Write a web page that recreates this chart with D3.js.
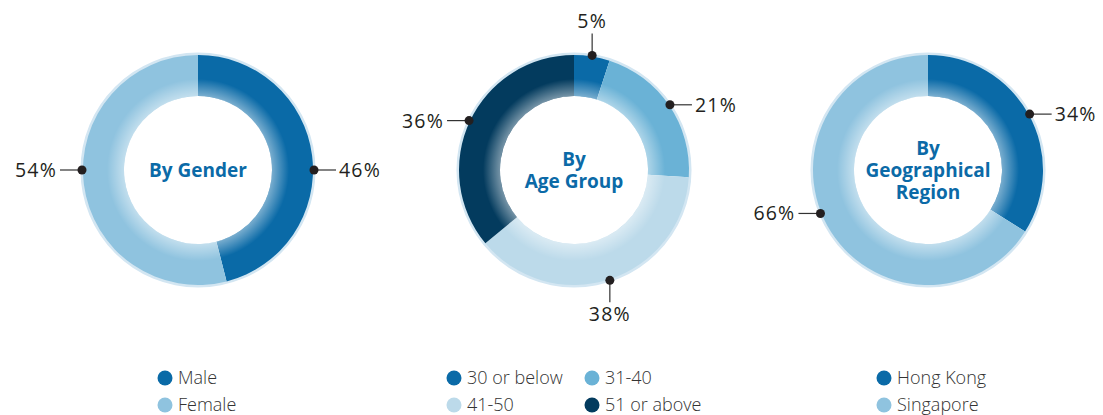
<!DOCTYPE html>
<html>
<head>
<meta charset="utf-8">
<script src="https://cdn.jsdelivr.net/npm/d3@7"></script>
<style>
  body { margin: 0; background: #fff; }
  svg { display: block; font-family: "Open Sans", "Noto Sans", sans-serif; }
</style>
</head>
<body>
<div id="main"></div>
<script>
const ctx = {
    w: 1103,
    h: 415,
    cy: 170,
    rInner: 74,
    rOuter: 115,
    rRim: 117.5,
    leader: 22,
    TITLE_COLOR: "#0b6aa7",
    TEXT_COLOR: "#231f20",
    RIM_COLOR: "#d3e6f2",
};

// data
const GENDER_LABELS = ["Male", "Female"];
const GENDER_VALUES = [46, 54];
const AGE_LABELS = ["30 or below", "31-40", "41-50", "51 or above"];
const AGE_VALUES = [5, 21, 38, 36];
const REGION_LABELS = ["Hong Kong", "Singapore"];
const REGION_VALUES = [34, 66];

const GENDER_COLORS = ["#0a6aa7", "#8fc3df"];
const AGE_COLORS = ["#0a6aa7", "#6ab2d6", "#bcdaea", "#033b5e"];
const REGION_COLORS = ["#0a6aa7", "#8fc3df"];

// each chart: centre x, title lines, where the callout dots sit (degrees, null = mid of slice)
const CHARTS = [
    { cx: 198, title: ["By Gender"], labels: GENDER_LABELS, values: GENDER_VALUES, colors: GENDER_COLORS,
      dotAngles: [90, 270], legendX: [165], legendCols: 1 },
    { cx: 574, title: ["By", "Age Group"], labels: AGE_LABELS, values: AGE_VALUES, colors: AGE_COLORS,
      dotAngles: [null, null, null, null], legendX: [454, 592], legendCols: 2 },
    { cx: 928, title: ["By", "Geographical", "Region"], labels: REGION_LABELS, values: REGION_VALUES, colors: REGION_COLORS,
      dotAngles: [null, 248], legendX: [884], legendCols: 1 },
];

function createViz() {
    let svgEl = d3.select("#main").append("svg")
        .attr("width", ctx.w)
        .attr("height", ctx.h);

    // soft white glow along the inner edge of each ring
    let grad = svgEl.append("defs").append("radialGradient")
        .attr("id", "innerGlow")
        .attr("gradientUnits", "userSpaceOnUse")
        .attr("cx", 0).attr("cy", 0).attr("r", ctx.rOuter);
    grad.append("stop").attr("offset", ctx.rInner / ctx.rOuter).attr("stop-color", "#fff").attr("stop-opacity", 0.45);
    grad.append("stop").attr("offset", (ctx.rInner + 17) / ctx.rOuter).attr("stop-color", "#fff").attr("stop-opacity", 0);

    CHARTS.forEach(function (c) { drawDonut(svgEl, c); });
}

function drawDonut(svgEl, c) {
    let g = svgEl.append("g").attr("transform", `translate(${c.cx},${ctx.cy})`);
    let pie = d3.pie().sort(null).value((d) => d)(c.values);
    let arc = d3.arc().innerRadius(ctx.rInner).outerRadius(ctx.rOuter);

    // light rim
    g.append("path")
        .attr("d", d3.arc().innerRadius(ctx.rOuter - 1).outerRadius(ctx.rRim)
            .startAngle(0).endAngle(2 * Math.PI)())
        .attr("fill", ctx.RIM_COLOR);

    g.selectAll("path.slice")
        .data(pie)
        .enter()
        .append("path")
        .classed("slice", true)
        .attr("d", arc)
        .attr("fill", (d, i) => c.colors[i]);

    g.append("path")
        .attr("d", d3.arc().innerRadius(ctx.rInner).outerRadius(ctx.rOuter)
            .startAngle(0).endAngle(2 * Math.PI)())
        .attr("fill", "url(#innerGlow)");

    // title in the hole, one text per line
    let lh = 22;
    let y0 = -((c.title.length - 1) * lh) / 2;
    g.selectAll("text.title")
        .data(c.title)
        .enter()
        .append("text")
        .classed("title", true)
        .attr("text-anchor", "middle")
        .attr("fill", ctx.TITLE_COLOR)
        .attr("font-weight", 700)
        .attr("font-size", 19)
        .attr("x", 0)
        .attr("y", (d, i) => y0 + i * lh)
        .attr("dy", "0.35em")
        .text((d) => d);

    // callouts
    pie.forEach(function (p, i) {
        let a = c.dotAngles[i] == null ? (p.startAngle + p.endAngle) / 2 : c.dotAngles[i] * Math.PI / 180;
        let r = ctx.rOuter + 1;
        let x = r * Math.sin(a), y = -r * Math.cos(a);
        let horizontal = Math.abs(Math.sin(a)) > 0.5;
        let x2 = x, y2 = y, tx, ty, anchor;
        if (horizontal) {
            let s = Math.sign(Math.sin(a));
            x2 = x + s * ctx.leader;
            tx = x2 + s * 3;
            ty = y;
            anchor = s > 0 ? "start" : "end";
        } else {
            let s = Math.cos(a) > 0 ? -1 : 1;
            y2 = y + s * ctx.leader;
            tx = x;
            ty = y2 + s * 12;
            anchor = "middle";
        }
        g.append("line")
            .attr("x1", x).attr("y1", y)
            .attr("x2", x2).attr("y2", y2)
            .attr("stroke", "#333")
            .attr("stroke-width", 1.2);
        g.append("circle")
            .attr("cx", x).attr("cy", y).attr("r", 4.5)
            .attr("fill", ctx.TEXT_COLOR);
        g.append("text")
            .attr("x", tx).attr("y", ty)
            .attr("dy", "0.36em")
            .attr("text-anchor", anchor)
            .attr("font-size", 19.5)
            .attr("letter-spacing", 1.2)
            .attr("fill", ctx.TEXT_COLOR)
            .text(c.values[i] + "%");
    });

    // legend
    let lg = svgEl.append("g");
    c.labels.forEach(function (lab, i) {
        let col = i % c.legendCols;
        let row = Math.floor(i / c.legendCols);
        let lx = c.legendX[col];
        let ly = 378 + row * 27;
        lg.append("circle")
            .attr("cx", lx).attr("cy", ly).attr("r", 7.5)
            .attr("fill", c.colors[i]);
        lg.append("text")
            .attr("x", lx + 13).attr("y", ly)
            .attr("dy", "0.36em")
            .attr("font-size", 18)
            .attr("font-weight", 300)
            .attr("fill", "#333")
            .text(lab);
    });
}

createViz();
</script>
</body>
</html>
